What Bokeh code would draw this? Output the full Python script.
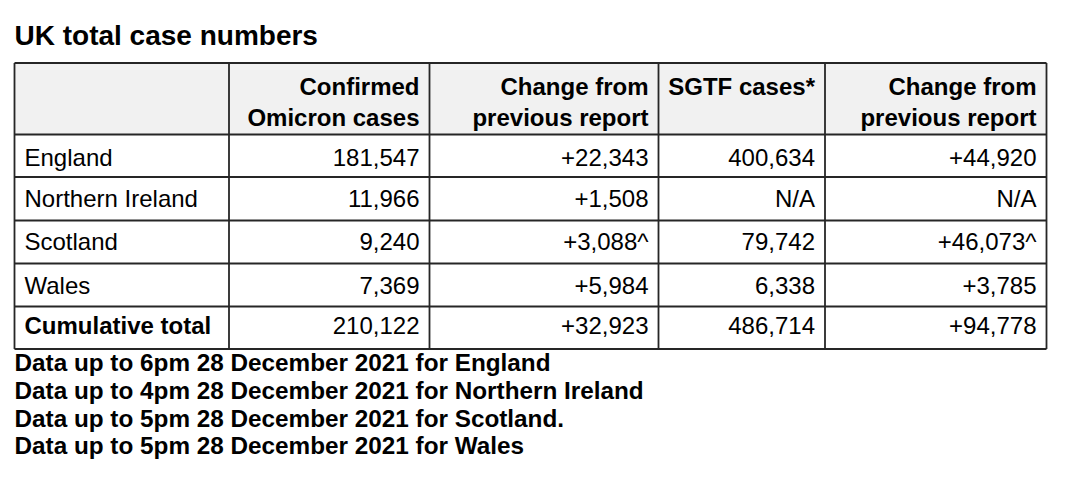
from bokeh.plotting import figure
from bokeh.models import Range1d, ColumnDataSource
from bokeh.core.properties import value
from bokeh.embed import file_html
from bokeh.resources import INLINE

# ---- data ----
title = "UK total case numbers"
headers_line1 = ["", "Confirmed", "Change from", "SGTF cases*", "Change from"]
headers_line2 = ["", "Omicron cases", "previous report", "", "previous report"]
regions = ["England", "Northern Ireland", "Scotland", "Wales", "Cumulative total"]
confirmed = ["181,547", "11,966", "9,240", "7,369", "210,122"]
confirmed_change = ["+22,343", "+1,508", "+3,088^", "+5,984", "+32,923"]
sgtf = ["400,634", "N/A", "79,742", "6,338", "486,714"]
sgtf_change = ["+44,920", "N/A", "+46,073^", "+3,785", "+94,778"]
footnotes = [
    "Data up to 6pm 28 December 2021 for England",
    "Data up to 4pm 28 December 2021 for Northern Ireland",
    "Data up to 5pm 28 December 2021 for Scotland.",
    "Data up to 5pm 28 December 2021 for Wales",
]

# ---- layout (pixel coordinates of the picture) ----
col_edges = [14, 228.5, 429, 658, 824.5, 1046]
row_edges = [62.5, 134, 176.5, 220, 263, 306, 348.5]
row_baselines = [167, 208, 251, 294.5, 334.5]
FONT = "Liberation Sans"
YOFF = -10  # text baseline correction

W, H = 1064, 467
p = figure(width=W, height=H, output_backend="svg", toolbar_location=None,
           x_range=Range1d(0, W), y_range=Range1d(H, 0),
           min_border=0)
p.axis.visible = False
p.grid.visible = False
p.outline_line_color = None
p.background_fill_color = "white"

# header background
p.quad(left=[col_edges[0]], right=[col_edges[-1]], top=[row_edges[0]], bottom=[row_edges[1]],
       fill_color="#f1f1f1", line_color=None)

# grid lines
hx0 = [col_edges[0]] * len(row_edges)
hx1 = [col_edges[-1]] * len(row_edges)
p.segment(x0=hx0, x1=hx1, y0=row_edges, y1=row_edges, line_color="#262626", line_width=1.8)
vy0 = [row_edges[0]] * len(col_edges)
vy1 = [row_edges[-1]] * len(col_edges)
p.segment(x0=col_edges, x1=col_edges, y0=vy0, y1=vy1, line_color="#262626", line_width=1.8)

# title
p.text(x=[14], y=[45], text=[title], text_font=value(FONT), text_font_style="bold",
       text_font_size="28px", text_color="black", text_baseline="alphabetic", text_align="left",
       y_offset=YOFF)

# headers (right aligned)
pad = 10
hx = [e - pad for e in col_edges[2:]]
p.text(x=hx, y=[96] * 4, text=headers_line1[1:], text_font=value(FONT), text_font_style="bold",
       text_font_size="24px", text_color="black", text_baseline="alphabetic", text_align="right",
       y_offset=YOFF)
p.text(x=hx, y=[127] * 4, text=headers_line2[1:], text_font=value(FONT), text_font_style="bold",
       text_font_size="24px", text_color="black", text_baseline="alphabetic", text_align="right",
       y_offset=YOFF)

# region names
styles = ["normal"] * (len(regions) - 1) + ["bold"]
src = ColumnDataSource(dict(x=[24] * len(regions), y=row_baselines, t=regions, s=styles))
p.text(x="x", y="y", text="t", text_font_style="s", source=src, text_font=value(FONT),
       text_font_size="24px", text_color="black", text_baseline="alphabetic", text_align="left",
       y_offset=YOFF)

# numeric columns
for ci, col in enumerate([confirmed, confirmed_change, sgtf, sgtf_change]):
    x = col_edges[ci + 2] - pad
    p.text(x=[x] * len(col), y=row_baselines, text=col, text_font=value(FONT),
           text_font_size="24px", text_color="black", text_baseline="alphabetic", text_align="right",
           y_offset=YOFF)

# footnotes
p.text(x=[14] * len(footnotes), y=[372, 400, 427.5, 455], text=footnotes, text_font=value(FONT),
       text_font_style="bold", text_font_size="24.3px", text_color="black",
       text_baseline="alphabetic", text_align="left", y_offset=YOFF)

open("out.html", "w").write(file_html(p, INLINE))
